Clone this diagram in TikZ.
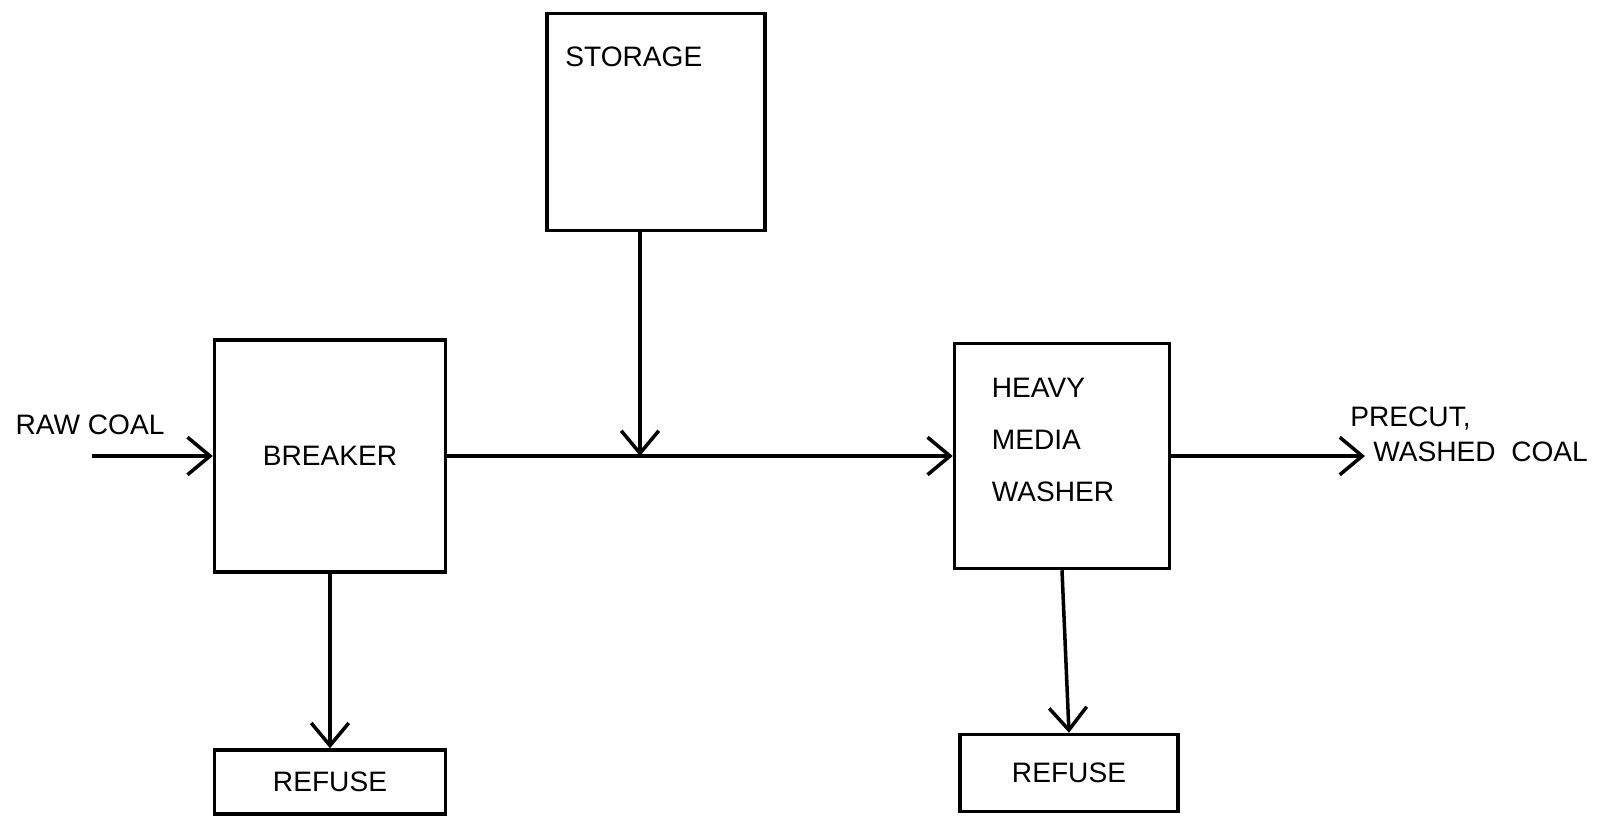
\documentclass[tikz,border=0pt]{standalone}
\usepackage{fontspec}
\setmainfont{Liberation Sans}
\usetikzlibrary{arrows.meta,positioning,calc}

\begin{document}
\begin{tikzpicture}[x=0.02cm, y=-0.02cm,
    box/.style={draw, line width=2pt, inner sep=0pt, font=\fontsize{16}{16}\selectfont},
    flow/.style={line width=2pt, -{Straight Barb[length=0.45cm, width=0.75cm, line width=2pt]}},
    tag/.style={font=\fontsize{16}{16}\selectfont, inner sep=0pt}]
    \useasboundingbox (0,0) rectangle (1597,816);

    % Process units
    \node[box, minimum width=4.36cm, minimum height=4.34cm] (storage) at (656,122) {};
    \node[tag, anchor=west] (storagetxt) at (565,57) {STORAGE};
    \node[box, minimum width=4.62cm, minimum height=4.64cm] (breaker) at (330,456) {BREAKER};
    \node[box, minimum width=4.3cm, minimum height=4.5cm] (washer) at (1062,456) {};
    \node[tag, align=left, font=\fontsize{16}{29.5}\selectfont] (washertxt) at (1053,440)
        {HEAVY\\MEDIA\\WASHER};
    \node[box, minimum width=4.62cm, minimum height=1.28cm] (refusea) at (330,782) {REFUSE};
    \node[box, minimum width=4.36cm, minimum height=1.54cm] (refuseb) at (1069,773) {REFUSE};

    % Streams
    \node[tag] (rawcoal) at (90,425) {RAW COAL};
    \node[tag, anchor=west] (precut) at (1350,418) {PRECUT,};
    \node[tag, anchor=west] (washed) at (1373,452) {WASHED\ \ COAL};
    \coordinate (feed) at (92,456);
    \coordinate (merge) at (640,456);
    \coordinate (product) at (1365,456);

    \draw[flow] (feed) -- (breaker.west);
    \draw[flow] (breaker.east) -- (washer.west);
    \draw[flow] (storage.south -| merge) -- (merge);
    \draw[flow] (breaker.south) -- (refusea.north);
    \draw[flow] (washer.south) -- (refuseb.north);
    \draw[flow] (washer.east) -- (product);
\end{tikzpicture}
\end{document}
